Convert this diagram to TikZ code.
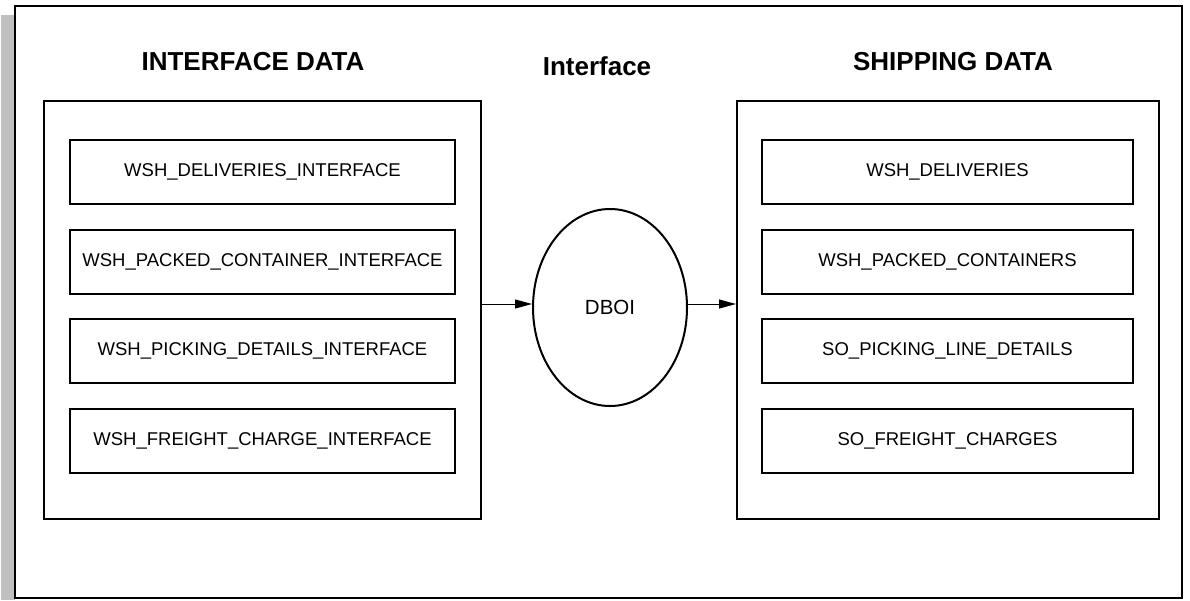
\documentclass[tikz,border=0pt]{standalone}
\usepackage{fontspec}
\setmainfont{Liberation Sans}
\usetikzlibrary{arrows.meta,shapes.geometric}
\definecolor{shadowgray}{RGB}{192,192,192}
\tikzset{
  frame/.style={draw=black, line width=2pt},
  group/.style={draw=black, line width=2pt},
  table/.style={draw=black, line width=2pt, minimum width=385pt, minimum height=64pt,
    inner sep=0pt, font=\fontsize{18.5}{20}\selectfont},
  title/.style={font=\fontsize{26}{28}\selectfont\bfseries, inner sep=0pt},
  hub/.style={draw=black, line width=2pt, ellipse, minimum width=154pt, minimum height=197pt,
    inner sep=0pt, font=\fontsize{20.5}{22}\selectfont},
  flow/.style={line width=1pt, -{Triangle[length=17pt, width=9pt]}}
}
\begin{document}
\begin{tikzpicture}[x=1pt, y=-1pt]
  \useasboundingbox (0,0) rectangle (1190,600);
  % drop shadow and outer frame
  \fill[shadowgray] (1,15) rectangle (15,600);
  \draw[frame, fill=white] (15,6) rectangle (1182,598);

  % column headings
  \node[title] (hleft) at (253,62) {INTERFACE DATA};
  \node[title] (hmid) at (597,66) {Interface};
  \node[title] (hright) at (953,62) {SHIPPING DATA};

  % interface tables
  \node[group, minimum width=437pt, minimum height=418pt, inner sep=0pt] (left) at (262.5,310) {};
  \node[table] (l1) at (262.5,172) {WSH\_DELIVERIES\_INTERFACE};
  \node[table] (l2) at (262.5,261.7) {WSH\_PACKED\_CONTAINER\_INTERFACE};
  \node[table] (l3) at (262.5,351.3) {WSH\_PICKING\_DETAILS\_INTERFACE};
  \node[table] (l4) at (262.5,441) {WSH\_FREIGHT\_CHARGE\_INTERFACE};

  % shipping tables
  \node[group, minimum width=422pt, minimum height=418pt, inner sep=0pt] (right) at (948,310) {};
  \node[table, minimum width=371pt] (r1) at (947.5,172) {WSH\_DELIVERIES};
  \node[table, minimum width=371pt] (r2) at (947.5,261.7) {WSH\_PACKED\_CONTAINERS};
  \node[table, minimum width=371pt] (r3) at (947.5,351.3) {SO\_PICKING\_LINE\_DETAILS};
  \node[table, minimum width=371pt] (r4) at (947.5,441) {SO\_FREIGHT\_CHARGES};

  % open interface process
  \node[hub] (dboi) at (610,307.5) {DBOI};
  \coordinate (lout) at (left.east |- 0,304);
  \coordinate (rin) at (right.west |- 0,304);
  \coordinate (din) at (dboi.west |- 0,304);
  \coordinate (dout) at (dboi.east |- 0,304);
  \draw[flow] (lout) -- (din);
  \draw[flow] (dout) -- (rin);
\end{tikzpicture}
\end{document}
